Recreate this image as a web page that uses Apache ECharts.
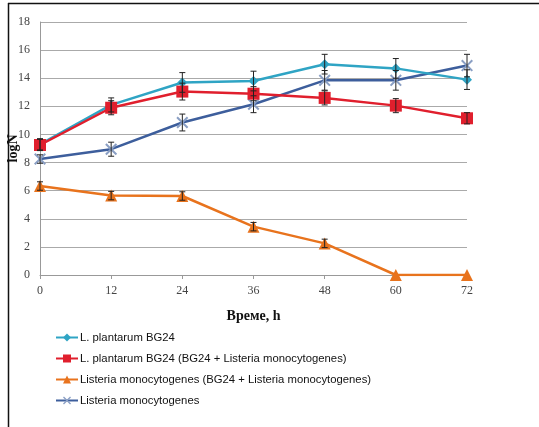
<!DOCTYPE html>
<html>
<head>
<meta charset="utf-8">
<style>html,body{margin:0;padding:0;background:#fff;}#c{width:539px;height:427px;}</style>
<script src="https://cdn.jsdelivr.net/npm/echarts@6/dist/echarts.min.js"></script>
</head>
<body>
<div id="c"></div>
<script>
var hours = [0, 12, 24, 36, 48, 60, 72];
var yTicks = [0, 2, 4, 6, 8, 10, 12, 14, 16, 18];
var names = [
  'L. plantarum BG24',
  'L. plantarum BG24 (BG24 + Listeria monocytogenes)',
  'Listeria monocytogenes (BG24 + Listeria monocytogenes)',
  'Listeria monocytogenes'
];
var plantarum = [9.3, 12.1, 13.7, 13.8, 15.0, 14.7, 13.9];
var plantarumErr = [0.4, 0.5, 0.7, 0.7, 0.7, 0.7, 0.7];
var plantarumMix = [9.25, 11.9, 13.05, 12.9, 12.6, 12.05, 11.15];
var plantarumMixErr = [0.4, 0.5, 0.6, 0.5, 0.5, 0.5, 0.4];
var listeriaMix = [6.33, 5.65, 5.62, 3.44, 2.25, 0, 0];
var listeriaMixErr = [0.3, 0.3, 0.3, 0.3, 0.3, 0, 0];
var listeria = [8.25, 8.95, 10.85, 12.15, 13.85, 13.85, 14.9];
var listeriaErr = [0.3, 0.5, 0.6, 0.6, 0.7, 0.7, 0.8];

var colors = ['#2fa4c4', '#e01f2d', '#e8731d', '#3d5e9c'];
var xPath = 'path://M0,1.2L1.2,0L5,3.8L8.8,0L10,1.2L6.2,5L10,8.8L8.8,10L5,6.2L1.2,10L0,8.8L3.8,5Z';

function pairs(v){ return hours.map(function(h,i){ return [h, v[i]]; }); }
function errData(v, e){ return hours.map(function(h,i){ return [h, v[i]-e[i], v[i]+e[i]]; }); }

function errSeries(v, e){
  return {
    type: 'custom', silent: true, z: 5,
    data: errData(v, e),
    renderItem: function(params, api){
      var x = api.value(0);
      if (api.value(2) - api.value(1) <= 0) return null;
      var lo = api.coord([x, api.value(1)]);
      var hi = api.coord([x, api.value(2)]);
      var w = 3;
      var st = {stroke: '#222', lineWidth: 1, fill: null};
      return {type: 'group', children: [
        {type: 'line', shape: {x1: lo[0], y1: lo[1], x2: hi[0], y2: hi[1]}, style: st},
        {type: 'line', shape: {x1: lo[0]-w, y1: lo[1], x2: lo[0]+w, y2: lo[1]}, style: st},
        {type: 'line', shape: {x1: hi[0]-w, y1: hi[1], x2: hi[0]+w, y2: hi[1]}, style: st}
      ]};
    }
  };
}

var chart = echarts.init(document.getElementById('c'));
chart.setOption({
  animation: false,
  backgroundColor: '#fff',
  graphic: [
    {type: 'line', shape: {x1: 8.5, y1: 3, x2: 8.5, y2: 427}, style: {stroke: '#111', lineWidth: 1.5}},
    {type: 'line', shape: {x1: 8, y1: 3.5, x2: 539, y2: 3.5}, style: {stroke: '#111', lineWidth: 1.5}}
  ],
  grid: {left: 40, right: 72, top: 22, bottom: 152, containLabel: false, outerBoundsMode: 'none'},
  legend: {
    orient: 'vertical', left: 50, top: 327, itemGap: 10,
    itemWidth: 22, itemHeight: 10,
    textStyle: {fontFamily: 'Liberation Sans Narrow, Liberation Sans', fontSize: 11.3, color: '#111', padding: [0, 0, 0, -3]},
    data: names
  },
  xAxis: {
    type: 'value', min: 0, max: 72, interval: 12,
    name: 'Време, h', nameLocation: 'middle', nameGap: 34,
    nameTextStyle: {fontFamily: 'Liberation Serif', fontWeight: 'bold', fontSize: 14, color: '#111'},
    axisLine: {show: true, lineStyle: {color: '#999'}},
    axisTick: {show: true, length: 4, lineStyle: {color: '#999'}},
    axisLabel: {fontFamily: 'Liberation Serif', fontSize: 12, color: '#444', margin: 10},
    splitLine: {show: false}
  },
  yAxis: {
    type: 'value', min: 0, max: 18, interval: 2,
    name: 'logN', nameLocation: 'middle', nameGap: 20, nameMoveOverlap: false,
    nameTextStyle: {fontFamily: 'Liberation Serif', fontWeight: 'bold', fontSize: 14, color: '#111'},
    axisLine: {show: true, lineStyle: {color: '#999'}},
    axisTick: {show: false},
    axisLabel: {fontFamily: 'Liberation Serif', fontSize: 12, color: '#444', margin: 10,
      formatter: function(v){ return yTicks.indexOf(v) >= 0 ? String(v) : ''; }},
    splitLine: {show: true, lineStyle: {color: '#aaa', width: 1}}
  },
  series: [
    errSeries(plantarum, plantarumErr),
    errSeries(plantarumMix, plantarumMixErr),
    errSeries(listeriaMix, listeriaMixErr),
    errSeries(listeria, listeriaErr),
    {name: names[3], type: 'line', data: pairs(listeria), color: colors[3], z: 3,
     lineStyle: {width: 2.5, color: colors[3]}, symbol: xPath, symbolSize: 12,
     itemStyle: {color: '#8a9fc4'}},
    {name: names[2], type: 'line', data: pairs(listeriaMix), color: colors[2], z: 3,
     lineStyle: {width: 2.5, color: colors[2]}, symbol: 'triangle', symbolSize: 12,
     itemStyle: {color: colors[2]}},
    {name: names[0], type: 'line', data: pairs(plantarum), color: colors[0], z: 3,
     lineStyle: {width: 2.5, color: colors[0]}, symbol: 'diamond', symbolSize: 10,
     itemStyle: {color: colors[0]}},
    {name: names[1], type: 'line', data: pairs(plantarumMix), color: colors[1], z: 4,
     lineStyle: {width: 2.5, color: colors[1]}, symbol: 'rect', symbolSize: 12,
     itemStyle: {color: colors[1]}}
  ]
});
</script>
</body>
</html>
